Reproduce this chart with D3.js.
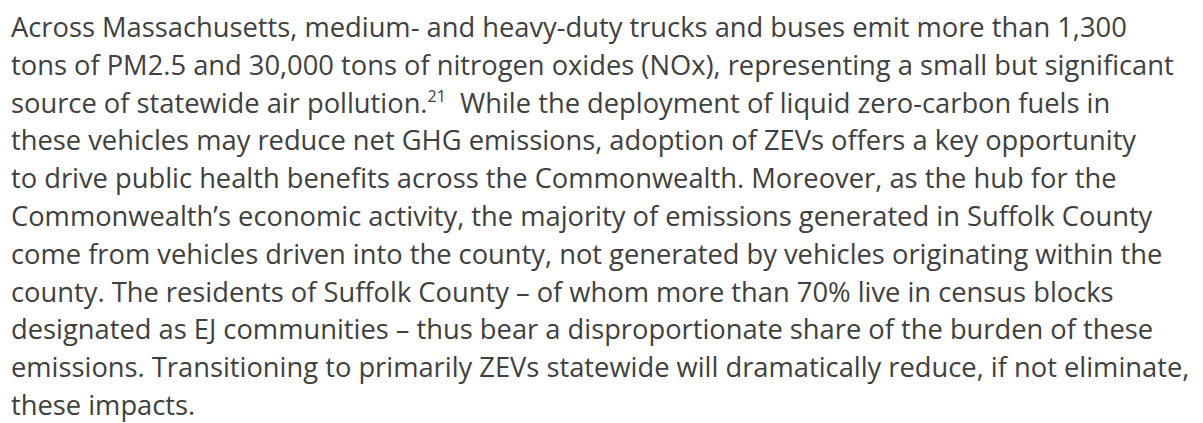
<!DOCTYPE html>
<html>
<head>
<meta charset="utf-8">
<script src="https://cdn.jsdelivr.net/npm/d3@7"></script>
<style>
  html, body { margin: 0; padding: 0; background: #fff; }
  svg text { white-space: pre; }
</style>
</head>
<body>
<div id="chart"></div>
<script>
// paragraph lines as they break in the original, superscript marked with ^
var lines = [
    "Across Massachusetts, medium- and heavy-duty trucks and buses emit more than 1,300",
    "tons of PM2.5 and 30,000 tons of nitrogen oxides (NOx), representing a small but significant",
    "source of statewide air pollution.^21^  While the deployment of liquid zero-carbon fuels in",
    "these vehicles may reduce net GHG emissions, adoption of ZEVs offers a key opportunity",
    "to drive public health benefits across the Commonwealth. Moreover, as the hub for the",
    "Commonwealth\u2019s economic activity, the majority of emissions generated in Suffolk County",
    "come from vehicles driven into the county, not generated by vehicles originating within the",
    "county. The residents of Suffolk County \u2013 of whom more than 70% live in census blocks",
    "designated as EJ communities \u2013 thus bear a disproportionate share of the burden of these",
    "emissions. Transitioning to primarily ZEVs statewide will dramatically reduce, if not eliminate,",
    "these impacts."
];

var width = 1203, height = 423;

var svg = d3.select("#chart").append("svg")
    .attr("width", width)
    .attr("height", height);

var yScale = d3.scaleLinear().domain([0, lines.length - 1]).range([37, 415]);

var rows = svg.selectAll("text.line")
    .data(lines)
    .enter().append("text")
    .attr("class", "line")
    .attr("x", 11)
    .attr("y", function (d, i) { return yScale(i); })
    .attr("fill", "#404040")
    .style("font-family", "'Open Sans', sans-serif")
    .style("font-size", "27.3px");

rows.each(function (d) {
    var parts = d.split("^");
    var el = d3.select(this);
    parts.forEach(function (p, j) {
        if (!p) return;
        var sup = j % 2 === 1;
        var t = el.append("tspan").text(p);
        if (sup) {
            t.attr("dy", -11).style("font-size", "16px");
        } else if (j > 0) {
            t.attr("dy", 11);
        }
    });
});
</script>
</body>
</html>
